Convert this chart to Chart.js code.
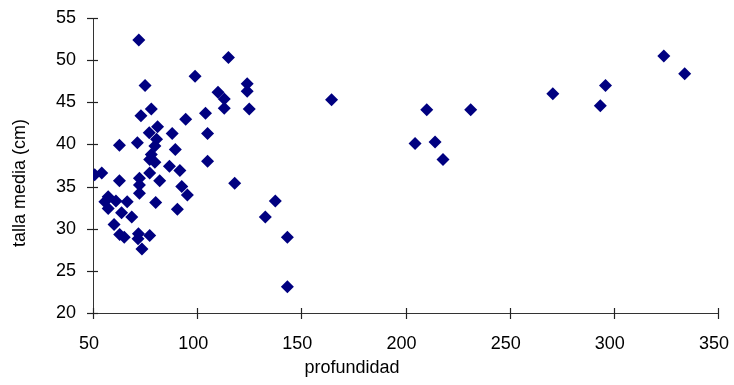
<!DOCTYPE html>
<html>
<head>
<meta charset="utf-8">
<script src="https://cdn.jsdelivr.net/npm/chart.js@4.4.1/dist/chart.umd.min.js"></script>
<style>
  html, body { margin: 0; padding: 0; background: #fff; }
  #wrap { width: 734px; height: 385px; }
</style>
</head>
<body>
<div id="wrap"><canvas id="myChart" width="734" height="385"></canvas></div>
<script>
// depth vs mean size, one point per sample
var profundidad = [72, 115, 99, 75, 78, 73, 110, 113, 113, 104,
  94.5, 81, 77, 88, 105, 62.7, 71.3, 80.5, 89.5, 79.7,
  78, 77.2, 79.7, 77.2, 105, 50.8, 54.2, 62.7, 72.3, 86.7,
  91.7, 82, 118, 72.3, 72.3, 92.6, 95.3, 57.3, 55.7, 57.3,
  61, 66.4, 80.1, 90.5, 63.7, 68.6, 60.1, 62.8, 65, 71.8,
  71.6, 77.2, 73.5, 124, 124, 125, 164.5, 137.5, 132.7, 143.3,
  143.3, 324, 334, 296, 293.5, 270.7, 210.2, 231.3, 204.6, 214.2, 218];
var tallaMedia = [52.4, 50.3, 48.1, 47.0, 44.2, 43.4, 46.2, 45.4, 44.3, 43.7,
  43.0, 42.1, 41.4, 41.3, 41.3, 39.9, 40.2, 40.6, 39.4, 39.8,
  38.8, 38.2, 37.9, 36.6, 38.0, 36.4, 36.6, 35.7, 36.0, 37.4,
  36.9, 35.7, 35.4, 35.2, 34.2, 35.0, 34.0, 33.8, 33.2, 32.4,
  33.3, 33.2, 33.1, 32.3, 31.9, 31.4, 30.5, 29.3, 29.0, 29.4,
  28.8, 29.2, 27.6, 47.2, 46.3, 44.2, 45.3, 33.3, 31.4, 29.0,
  23.1, 50.5, 48.4, 47.0, 44.6, 46.0, 44.1, 44.1, 40.1, 40.3, 38.2];

var xTicks = [50, 100, 150, 200, 250, 300, 350];
var yTicks = [20, 25, 30, 35, 40, 45, 50, 55];

var axisColor = '#333333';
var fontFamily = '"Liberation Sans", Arial, sans-serif';

var points = profundidad.map(function(x, i) {
    return { x: x, y: tallaMedia[i] };
});

// tick marks crossing the axis lines
var crossTicks = {
    id: 'crossTicks',
    afterDatasetsDraw: function(chart) {
        var ctx = chart.ctx;
        var xs = chart.scales.x, ys = chart.scales.y;
        var bottom = ys.bottom, left = xs.left;
        ctx.save();
        ctx.strokeStyle = '#222222';
        ctx.lineWidth = 1.2;
        xTicks.forEach(function(v) {
            var px = Math.round(xs.getPixelForValue(v)) + 0.5;
            ctx.beginPath();
            ctx.moveTo(px, bottom - 5);
            ctx.lineTo(px, bottom + 6);
            ctx.stroke();
        });
        yTicks.forEach(function(v) {
            var py = Math.round(ys.getPixelForValue(v)) + 0.5;
            ctx.beginPath();
            ctx.moveTo(left - 6, py);
            ctx.lineTo(left + 5, py);
            ctx.stroke();
        });
        ctx.restore();
    }
};

// axis titles
var axisTitles = {
    id: 'axisTitles',
    afterDraw: function(chart) {
        var ctx = chart.ctx;
        ctx.save();
        ctx.fillStyle = '#000';
        ctx.font = '18px ' + fontFamily;
        ctx.textAlign = 'center';
        ctx.textBaseline = 'middle';
        ctx.fillText('profundidad', 352, 368);
        ctx.translate(20, 183);
        ctx.rotate(-Math.PI / 2);
        ctx.fillText('talla media (cm)', 0, 0);
        ctx.restore();
    }
};

var chartCtx = document.getElementById('myChart');
var myChart = new Chart(chartCtx, {
    type: 'scatter',
    data: {
        datasets: [{
            label: 'talla media',
            data: points,
            pointStyle: 'rectRot',
            pointRadius: 6.5,
            pointBorderWidth: 0,
            backgroundColor: '#000080',
            borderColor: '#000080'
        }]
    },
    options: {
        responsive: false,
        animation: false,
        layout: { padding: { top: 18, right: 16, left: 0, bottom: 0 } },
        plugins: {
            legend: { display: false },
            tooltip: { enabled: false }
        },
        scales: {
            x: {
                type: 'linear',
                min: xTicks[0],
                max: xTicks[xTicks.length - 1],
                afterBuildTicks: function(scale) {
                    scale.ticks = xTicks.map(function(v) { return { value: v }; });
                },
                afterFit: function(scale) { scale.height = 72; },
                // invisible tick length just spaces the labels off the axis
                grid: { display: true, drawOnChartArea: false, drawTicks: true,
                        tickLength: 20, tickColor: 'rgba(0,0,0,0)' },
                border: { display: true, color: axisColor, width: 1 },
                ticks: {
                    color: '#000',
                    padding: 0,
                    labelOffset: -4,
                    maxRotation: 0,
                    font: { family: fontFamily, size: 18 }
                }
            },
            y: {
                type: 'linear',
                min: yTicks[0],
                max: yTicks[yTicks.length - 1],
                afterBuildTicks: function(scale) {
                    scale.ticks = yTicks.map(function(v) { return { value: v }; });
                },
                afterFit: function(scale) { scale.width = 93; },
                grid: { display: true, drawOnChartArea: false, drawTicks: true,
                        tickLength: 17, tickColor: 'rgba(0,0,0,0)' },
                border: { display: true, color: axisColor, width: 1 },
                ticks: {
                    color: '#000',
                    padding: 0,
                    font: { family: fontFamily, size: 18 }
                }
            }
        }
    },
    plugins: [crossTicks, axisTitles]
});
</script>
</body>
</html>
